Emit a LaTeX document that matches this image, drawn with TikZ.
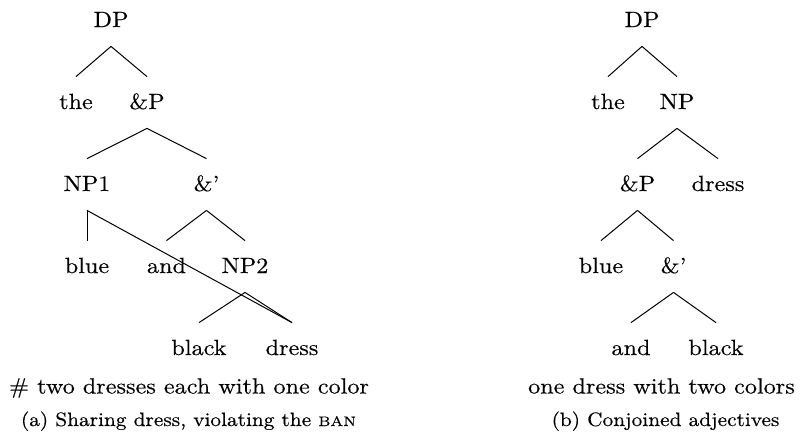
\documentclass[tikz,border=0pt]{standalone}
\usepackage{fontspec}
\setmainfont{Latin Modern Roman}[FakeStretch=1.1, FakeBold=0.35]
\tikzset{
  tn/.style={inner sep=0pt, text height=16pt, text depth=9.5pt, anchor=base, font=\fontsize{11}{13}\selectfont},
  captxt/.style={inner sep=0pt, anchor=base, font=\fontsize{11}{13}\selectfont},
  subcaptxt/.style={inner sep=0pt, anchor=base, font=\fontsize{9.7}{11.5}\selectfont},
  edge/.style={line width=0.5pt, black}
}
\newcommand{\fakesmallcaps}[1]{{\fontsize{6.9}{8}\selectfont #1}}
\begin{document}
\begin{tikzpicture}[x=0.5pt,y=-0.5pt]
\useasboundingbox (0,0) rectangle (802,435);
% ---- left tree (a)
\node[tn] (aDP)   at (111,27)  {DP};
\node[tn] (athe)  at (76,109)  {the};
\node[tn] (aAP)   at (147,109) {\&P};
\node[tn] (aNP1)  at (87,191)  {NP1};
\node[tn] (aAb)   at (206.5,191) {\&’};
\node[tn] (ablue) at (87,273)  {blue};
\node[tn] (aand)  at (166.5,273) {and};
\node[tn] (aNP2)  at (245,273) {NP2};
\node[tn] (ablack) at (199,355) {black};
\node[tn] (adress) at (292,355) {dress};
\draw[edge] (aDP.south) -- (athe.north);
\draw[edge] (aDP.south) -- (aAP.north);
\draw[edge] (aAP.south) -- (aNP1.north);
\draw[edge] (aAP.south) -- (aAb.north);
\draw[edge] (aNP1.south) -- (ablue.north);
\draw[edge] (aNP1.south) -- (adress.north);
\draw[edge] (aAb.south) -- (aand.north);
\draw[edge] (aAb.south) -- (aNP2.north);
\draw[edge] (aNP2.south) -- (ablack.north);
\draw[edge] (aNP2.south) -- (adress.north);
\node[captxt] (acap1) at (189,393.5) {\# two dresses each with one color};
\node[subcaptxt] (acap2) at (188.5,426) {(a) Sharing dress, violating the \fakesmallcaps{BAN}};
% ---- right tree (b)
\node[tn] (bDP)   at (642,27)  {DP};
\node[tn] (bthe)  at (608,109) {the};
\node[tn] (bNP)   at (677,109) {NP};
\node[tn] (bAP)   at (637.5,191) {\&P};
\node[tn] (bdress) at (718,191) {dress};
\node[tn] (bblue) at (601,273) {blue};
\node[tn] (bAb)   at (673.5,273) {\&’};
\node[tn] (band)  at (631,355) {and};
\node[tn] (bblack) at (716,355) {black};
\draw[edge] (bDP.south) -- (bthe.north);
\draw[edge] (bDP.south) -- (bNP.north);
\draw[edge] (bNP.south) -- (bAP.north);
\draw[edge] (bNP.south) -- (bdress.north);
\draw[edge] (bAP.south) -- (bblue.north);
\draw[edge] (bAP.south) -- (bAb.north);
\draw[edge] (bAb.south) -- (band.north);
\draw[edge] (bAb.south) -- (bblack.north);
\node[captxt] (bcap1) at (661.5,393.5) {one dress with two colors};
\node[subcaptxt] (bcap2) at (665.5,426) {(b) Conjoined adjectives};
\end{tikzpicture}
\end{document}
